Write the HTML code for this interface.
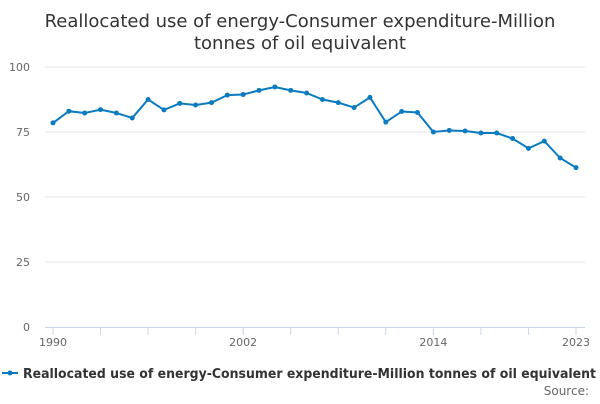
<!DOCTYPE html>
<html><head><meta charset="utf-8"><style>
body{margin:0;background:#fff;font-family:"DejaVu Sans","Liberation Sans",sans-serif;}
</style></head><body>
<svg width="600" height="400" xmlns="http://www.w3.org/2000/svg" id="c">
<text x="300" y="27" text-anchor="middle" font-size="18" fill="#333"><tspan x="300">Reallocated use of energy-Consumer expenditure-Million</tspan><tspan x="300" dy="22">tonnes of oil equivalent</tspan></text>
<g id="grid"></g><g id="axes"></g><g id="series"></g>
<g>
<line x1="2" y1="373" x2="18" y2="373" stroke="#0a7bc1" stroke-width="2"/>
<circle cx="10" cy="373" r="2.5" fill="#0a7bc1"/>
<text x="23" y="378" font-size="13" font-weight="bold" fill="#333" textLength="573" lengthAdjust="spacingAndGlyphs">Reallocated use of energy-Consumer expenditure-Million tonnes of oil equivalent</text>
</g>
<text x="589" y="395" text-anchor="end" font-size="12" fill="#666">Source:</text>
</svg>
<script>
const years=[1990,1991,1992,1993,1994,1995,1996,1997,1998,1999,2000,2001,2002,2003,2004,2005,2006,2007,2008,2009,2010,2011,2012,2013,2014,2015,2016,2017,2018,2019,2020,2021,2022,2023];
const values=[78.5,83,82.3,83.6,82.3,80.4,87.5,83.5,86,85.4,86.3,89.2,89.4,91,92.3,91,90,87.5,86.3,84.4,88.3,78.8,82.9,82.5,75,75.6,75.4,74.6,74.6,72.5,68.7,71.5,65,61.3];
const yTicks=[0,25,50,75,100];
const xLabels=[1990,2002,2014,2023];
const x0=53,x1=576,yb=327,yt=67;
const xs=v=>x0+(v-1990)/(2023-1990)*(x1-x0);
const ys=v=>yb-v/100*(yb-yt);
const NS="http://www.w3.org/2000/svg";
function mk(t,a,p){const e=document.createElementNS(NS,t);for(const k in a)e.setAttribute(k,a[k]);p.appendChild(e);return e;}
const grid=document.getElementById('grid'),axes=document.getElementById('axes'),ser=document.getElementById('series');
yTicks.forEach(v=>{
 if(v>0){const g=mk('line',{x1:45,x2:585,y1:ys(v),y2:ys(v),stroke:'#e6e6e6'},grid);
 
 }
 const t=mk('text',{x:30,y:ys(v)+4,'text-anchor':'end','font-size':11,fill:'#666'},axes);t.textContent=v;
 
 
});
const ax=mk('line',{x1:45,x2:585,y1:yb+0.5,y2:yb+0.5,stroke:'#ccd6eb'},axes);


for(let y=1990;y<=2023;y+=3){const tk=mk('line',{x1:xs(y),x2:xs(y),y1:yb,y2:yb+8,stroke:'#ccd6eb'},axes);
 
 }
xLabels.forEach(y=>{const t=mk('text',{x:xs(y),y:yb+19,'text-anchor':'middle','font-size':11,fill:'#666'},axes);t.textContent=y;
 
 });
const pl=mk('polyline',{points:years.map((y,i)=>xs(y)+','+ys(values[i])).join(' '),fill:'none',stroke:'#0a7bc1','stroke-width':2},ser);


years.forEach((y,i)=>{const c=mk('circle',{cx:xs(y),cy:ys(values[i]),r:2.5,fill:'#0a7bc1'},ser);
 
 });
</script>
</body></html>
